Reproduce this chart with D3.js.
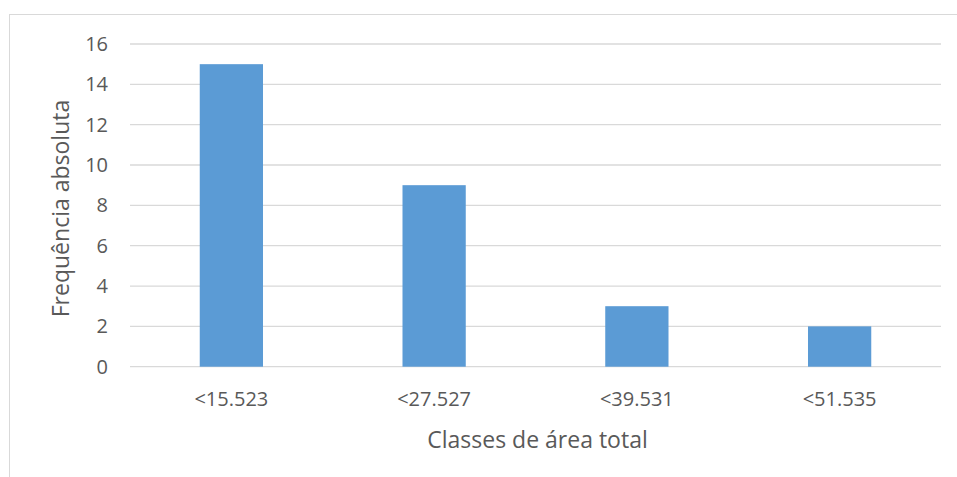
<!DOCTYPE html>
<html><head><meta charset="utf-8">
<script src="https://cdn.jsdelivr.net/npm/d3@7"></script>
<style>body{margin:0;background:#fff}svg{display:block}</style>
</head><body>
<script>
const categories = ["<15.523", "<27.527", "<39.531", "<51.535"];
const values = [15, 9, 3, 2];
const yTicks = [0, 2, 4, 6, 8, 10, 12, 14, 16];
const xTitle = "Classes de área total";
const yTitle = "Frequência absoluta";

(function () {
const W = 957, H = 477;
const svg = d3.select("body").append("svg").attr("width", W).attr("height", H);
const font = "'Open Sans', 'Liberation Sans', sans-serif";
const txt = "#595959";

// chart border
svg.append("rect").attr("x", 9.5).attr("y", 14.5).attr("width", W).attr("height", H)
  .attr("fill", "none").attr("stroke", "#d9d9d9").attr("stroke-width", 1);

const pl = 130, pr = 941, pt = 44, pb = 366.7;
const x = d3.scaleBand().domain(categories).range([pl, pr]).paddingInner(0.688).paddingOuter(0.344);
const y = d3.scaleLinear().domain([0, 16]).range([pb, pt]);

// gridlines
svg.append("g").selectAll("line").data(yTicks).join("line")
  .attr("x1", pl).attr("x2", pr)
  .attr("y1", d => y(d)).attr("y2", d => y(d))
  .attr("stroke", "#d9d9d9").attr("stroke-width", 1.3);

// y axis labels
const yAxis = svg.append("g").attr("transform", `translate(${pl - 22},0)`)
  .call(d3.axisLeft(y).tickValues(yTicks).tickSize(0).tickPadding(0));
yAxis.select(".domain").remove();
yAxis.selectAll("text").attr("font-family", font).attr("font-size", 20).attr("fill", txt);

// bars
svg.append("g").selectAll("rect").data(values).join("rect")
  .attr("x", (d, i) => x(categories[i]))
  .attr("width", x.bandwidth())
  .attr("y", d => y(d))
  .attr("height", d => y(0) - y(d))
  .attr("fill", "#5b9bd5");

// x axis labels
const xAxis = svg.append("g").attr("transform", `translate(0,${pb})`)
  .call(d3.axisBottom(x).tickSize(0).tickPadding(25));
xAxis.select(".domain").remove();
xAxis.selectAll("text").attr("font-family", font).attr("font-size", 20).attr("fill", txt);

// titles
svg.append("text").attr("x", 537.5).attr("y", 448)
  .attr("text-anchor", "middle").attr("font-family", font).attr("font-size", 23)
  .attr("fill", txt).text(xTitle);
svg.append("text").attr("transform", `translate(69,208.5) rotate(-90)`)
  .attr("text-anchor", "middle").attr("font-family", font).attr("font-size", 23)
  .attr("fill", txt).text(yTitle);
})();
</script>
</body></html>
